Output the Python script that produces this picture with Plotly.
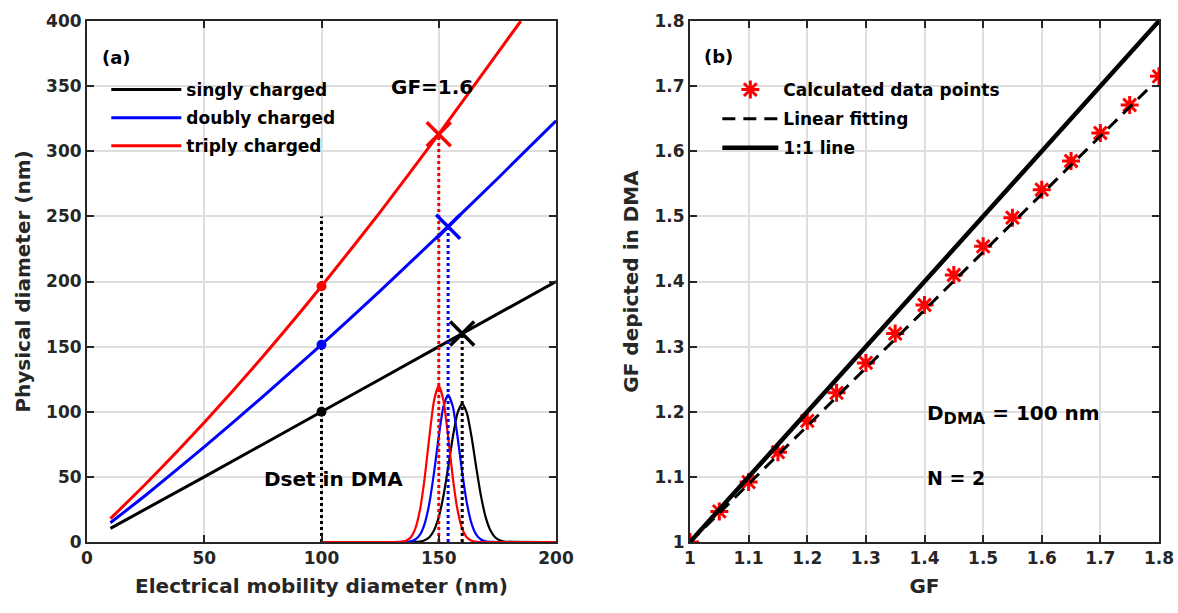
import plotly.graph_objects as go

# ---------------- Panel (a) data ----------------
x_singly = [10, 50, 100, 150, 200]
y_singly = [10.5, 50, 100, 150, 200]

x_doubly = [10, 25, 50, 75, 100, 125, 150, 175, 200]
y_doubly = [14.8, 35.9, 73.0, 111.6, 151.5, 192.8, 235.4, 278.9, 323.4]

x_triply = [10, 25, 50, 75, 100, 125, 150, 175, 185]
y_triply = [18.0, 44.5, 91.8, 142.4, 196.3, 253.3, 313.1, 375.2, 400.0]

dset_x = [100, 100, 100]
dset_y = [100, 151.5, 196.3]

gf_mark_x = [160, 154, 150]
gf_mark_y = [160, 242, 313]

vline_x = [100, 150, 154, 160]
vline_top = [250, 313, 242, 160]
vline_color = ["black", "red", "blue", "black"]

dist_black_x = [100, 142, 144, 146, 148, 150, 152, 154, 156, 158, 160, 162, 164, 166,
                168, 170, 172, 174, 176, 178, 200]
dist_black_y = [0, 0.4, 1.3, 3.7, 9.0, 19.1, 35.4, 57.2, 80.6, 99, 106, 99, 80.6, 57.2,
                35.4, 19.1, 9.0, 3.7, 1.3, 0.4, 0]
dist_blue_x = [100, 138, 140, 142, 144, 146, 148, 150, 152, 154, 156, 158, 160, 162,
               164, 166, 168, 170, 200]
dist_blue_y = [0, 0.5, 1.9, 5.6, 14.1, 29.8, 53.4, 81, 104, 113, 104, 81, 53.4, 29.8,
               14.1, 5.6, 1.9, 0.5, 0]
dist_red_x = [100, 134, 136, 138, 140, 142, 144, 146, 148, 150, 152, 154, 156, 158,
              160, 162, 164, 166, 200]
dist_red_y = [0, 0.2, 0.95, 3.4, 10.2, 24.7, 49.3, 80.9, 108.7, 120, 108.7, 80.9, 49.3,
              24.7, 10.2, 3.4, 0.95, 0.2, 0]

# ---------------- Panel (b) data ----------------
gf = [1.00, 1.05, 1.10, 1.15, 1.20, 1.25, 1.30, 1.35, 1.40, 1.45, 1.50, 1.55, 1.60,
      1.65, 1.70, 1.75, 1.80]
gf_dma = [1.000, 1.047, 1.092, 1.138, 1.186, 1.229, 1.275, 1.320, 1.364, 1.410, 1.454,
          1.498, 1.541, 1.585, 1.628, 1.671, 1.715]
fit_x = [1.0, 1.785]
fit_y = [1.0, 1.699]
one_x = [1.0, 1.8]
one_y = [1.0, 1.8]

FONT = "DejaVu Sans"
AXC = "#262626"

fig = go.Figure()

# distributions
for xs, ys, c in [(dist_black_x, dist_black_y, "black"),
                  (dist_blue_x, dist_blue_y, "blue"),
                  (dist_red_x, dist_red_y, "red")]:
    fig.add_trace(go.Scatter(x=xs, y=ys, mode="lines",
                             line=dict(color=c, width=2.2, shape="spline", smoothing=0.6),
                             showlegend=False, xaxis="x", yaxis="y", hoverinfo="skip"))

# main curves
for xs, ys, c, name in [(x_singly, y_singly, "black", "singly charged"),
                        (x_doubly, y_doubly, "blue", "doubly charged"),
                        (x_triply, y_triply, "red", "triply charged")]:
    fig.add_trace(go.Scatter(x=xs, y=ys, mode="lines", name=name, legend="legend",
                             legendgroup=name,
                             line=dict(color=c, width=3, shape="spline", smoothing=0.5),
                             xaxis="x", yaxis="y"))

# vertical dotted lines
for vx, vt, c in zip(vline_x, vline_top, vline_color):
    fig.add_trace(go.Scatter(x=[vx, vx], y=[0, vt], mode="lines",
                             line=dict(color=c, width=3, dash="3px,3px"),
                             showlegend=False, xaxis="x", yaxis="y"))

mark_colors = ["black", "blue", "red"]
# dots at Dset
fig.add_trace(go.Scatter(x=dset_x, y=dset_y, mode="markers",
                         marker=dict(color=mark_colors, size=10),
                         showlegend=False, xaxis="x", yaxis="y"))
# X markers
fig.add_trace(go.Scatter(x=gf_mark_x, y=gf_mark_y, mode="markers",
                         marker=dict(symbol="x-thin-open", size=24, color=mark_colors,
                                     line=dict(color=mark_colors, width=3.5)),
                         showlegend=False, xaxis="x", yaxis="y"))

# panel (b)
fig.add_trace(go.Scatter(x=gf, y=gf_dma, mode="markers", name="Calculated data points",
                         legend="legend2", legendgroup="a",
                         marker=dict(symbol="asterisk-open", size=15, color="red",
                                     line=dict(color="red", width=3)),
                         xaxis="x2", yaxis="y2"))
fig.add_trace(go.Scatter(x=fit_x, y=fit_y, mode="lines", name="Linear fitting", legend="legend2",
                         legendgroup="b", line=dict(color="black", width=3, dash="13px,8px"),
                         xaxis="x2", yaxis="y2"))
fig.add_trace(go.Scatter(x=one_x, y=one_y, mode="lines", name="1:1 line", legend="legend2",
                         legendgroup="c", line=dict(color="black", width=4.5),
                         xaxis="x2", yaxis="y2"))

axis_common = dict(
    ticks="inside", ticklen=7, tickwidth=2, tickcolor=AXC,
    showline=True, linewidth=2, linecolor=AXC, mirror="ticks",
    showgrid=True, gridcolor="#dedede", gridwidth=2, zeroline=False,
    tickfont=dict(family=FONT, size=17, color=AXC, weight="bold"),
)
title_font = dict(family=FONT, size=20, color=AXC, weight="bold")

fig.update_layout(
    width=1178, height=613, autosize=False,
    template="none",
    paper_bgcolor="white", plot_bgcolor="white",
    margin=dict(l=87, r=19, t=21, b=71),
    xaxis=dict(domain=[0, 0.4375], range=[0, 200], dtick=50, tick0=0,
               title=dict(text="Electrical mobility diameter (nm)", font=title_font, standoff=12),
               **axis_common),
    yaxis=dict(domain=[0, 1], range=[0, 400], dtick=50, tick0=0, anchor="x",
               title=dict(text="Physical diameter (nm)", font=title_font, standoff=10),
               **axis_common),
    xaxis2=dict(domain=[0.5625, 1], range=[1, 1.8], dtick=0.1, tick0=1, anchor="y2",
                title=dict(text="GF", font=title_font, standoff=12),
                **axis_common),
    yaxis2=dict(domain=[0, 1], range=[1, 1.8], dtick=0.1, tick0=1, anchor="x2",
                title=dict(text="GF depicted in DMA", font=title_font, standoff=10),
                **axis_common),
    legend=dict(x=0.018, y=0.902, xanchor="left", yanchor="top", bgcolor="rgba(0,0,0,0)",
                font=dict(family=FONT, size=17, color="black", weight="bold"),
                itemwidth=70, tracegroupgap=3, traceorder="grouped"),
    legend2=dict(x=0.588, y=0.902, xanchor="left", yanchor="top", bgcolor="rgba(0,0,0,0)",
                 font=dict(family=FONT, size=17, color="black", weight="bold"),
                 itemwidth=56, tracegroupgap=4, traceorder="grouped"),
    showlegend=True,
)

ann_font = dict(family=FONT, size=20, color="black", weight="bold")
fig.add_annotation(x=5.5, y=372, xref="x", yref="y", text="(a)", showarrow=False,
                   xanchor="left", yanchor="middle", font=dict(family=FONT, size=18, color="black", weight="bold"))
fig.add_annotation(x=147.3, y=349.6, xref="x", yref="y", text="GF=1.6", showarrow=False,
                   xanchor="center", yanchor="middle", font=ann_font)
fig.add_annotation(x=105.3, y=48.4, xref="x", yref="y", text="Dset in DMA", showarrow=False,
                   xanchor="center", yanchor="middle", font=ann_font)
fig.add_annotation(x=1.0205, y=1.745, xref="x2", yref="y2", text="(b)", showarrow=False,
                   xanchor="left", yanchor="middle", font=dict(family=FONT, size=18, color="black", weight="bold"))
fig.add_annotation(x=1.4, y=1.196, xref="x2", yref="y2",
                   text="D<sub><span style='font-size:16px'>DMA</span></sub> = 100 nm",
                   showarrow=False, xanchor="left", yanchor="middle", font=ann_font)
fig.add_annotation(x=1.4, y=1.098, xref="x2", yref="y2", text="N = 2",
                   showarrow=False, xanchor="left", yanchor="middle", font=dict(family=FONT, size=19, color="black", weight="bold"))

fig.write_html("out.html", config={"displayModeBar": False})
with open("out.html", "r", encoding="utf-8") as f:
    html = f.read()
html = html.replace("<head>", "<head><style>html,body{margin:0;padding:0;overflow:hidden;}</style>", 1)
with open("out.html", "w", encoding="utf-8") as f:
    f.write(html)
